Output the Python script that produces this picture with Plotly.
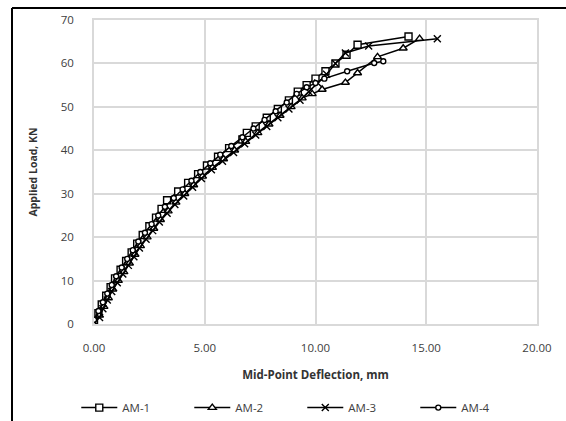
import plotly.graph_objects as go

# ---- data ----
am1_x = [0.0, 0.2, 0.35, 0.55, 0.75, 0.95, 1.2, 1.45, 1.7, 1.95, 2.2, 2.5, 2.8, 3.05, 3.3, 3.8, 4.25, 4.7, 5.1, 5.6, 6.1, 6.7, 6.9, 7.3, 7.8, 8.3, 8.8, 9.2, 9.6, 10.0, 10.45, 10.9, 11.4, 11.9, 14.2]
am1_y = [0.5, 2.5, 4.5, 6.5, 8.5, 10.5, 12.5, 14.5, 16.5, 18.5, 20.5, 22.5, 24.5, 26.5, 28.5, 30.5, 32.5, 34.5, 36.5, 38.5, 40.5, 42.5, 44.0, 45.5, 47.5, 49.5, 51.5, 53.5, 55.0, 56.5, 58.2, 60.0, 62.0, 64.3, 66.2]

am2_x = [0.0, 0.25, 0.45, 0.65, 0.85, 1.1, 1.35, 1.6, 1.85, 2.1, 2.4, 2.7, 3.0, 3.35, 3.7, 4.1, 4.5, 4.9, 5.35, 5.85, 6.35, 6.85, 7.4, 7.9, 8.4, 8.9, 9.4, 9.85, 10.3, 11.35, 11.9, 12.8, 13.96, 14.7]
am2_y = [0.0, 2.0, 4.0, 6.0, 8.0, 10.0, 12.0, 14.0, 16.0, 18.0, 20.0, 22.0, 24.0, 26.0, 28.0, 30.0, 32.0, 34.0, 36.0, 38.0, 40.0, 42.0, 44.0, 46.0, 48.0, 50.0, 52.0, 53.0, 54.0, 55.6, 57.8, 61.5, 63.5, 65.7]

am3_x = [0.0, 0.25, 0.4, 0.6, 0.8, 1.05, 1.3, 1.55, 1.8, 2.05, 2.35, 2.65, 2.95, 3.3, 3.65, 4.05, 4.45, 4.85, 5.3, 5.8, 6.3, 6.8, 7.3, 7.8, 8.3, 8.8, 9.3, 9.7, 10.1, 10.5, 10.9, 11.35, 12.4, 15.5]
am3_y = [0.5, 1.5, 3.5, 5.5, 7.5, 9.5, 11.5, 13.5, 15.5, 17.5, 19.5, 21.5, 23.5, 25.5, 27.5, 29.5, 31.5, 33.5, 35.5, 37.5, 39.5, 41.5, 43.5, 45.5, 47.5, 49.5, 51.5, 53.5, 55.5, 57.5, 60.0, 62.4, 64.0, 65.7]

am4_x = [0.0, 0.2, 0.4, 0.6, 0.8, 1.0, 1.25, 1.5, 1.75, 2.0, 2.3, 2.6, 2.9, 3.2, 3.6, 4.0, 4.4, 4.8, 5.25, 5.7, 6.2, 6.7, 7.2, 7.7, 8.2, 8.7, 9.15, 9.6, 10.0, 10.4, 11.43, 12.65, 13.06]
am4_y = [1.0, 3.0, 5.0, 7.0, 9.0, 11.0, 13.0, 15.0, 17.0, 19.0, 21.0, 23.0, 25.0, 27.0, 29.0, 31.0, 33.0, 35.0, 37.0, 39.0, 41.0, 43.0, 45.0, 47.0, 49.0, 51.0, 53.0, 54.5, 55.5, 56.5, 58.2, 60.1, 60.5]

series = [
    ("AM-1", am1_x, am1_y, "square", 7),
    ("AM-2", am2_x, am2_y, "triangle-up", 7),
    ("AM-3", am3_x, am3_y, "x-thin", 7),
    ("AM-4", am4_x, am4_y, "circle", 5),
]

x_ticks = [0, 5, 10, 15, 20]
x_tick_text = ["0.00", "5.00", "10.00", "15.00", "20.00"]
y_ticks = [0, 10, 20, 30, 40, 50, 60, 70]

fig = go.Figure()
for name, xs, ys, sym, sz in series:
    fig.add_trace(go.Scatter(
        x=xs, y=ys, name=name, mode="lines+markers",
        line=dict(color="black", width=1.5),
        marker=dict(symbol=sym, size=sz, color="white",
                    line=dict(color="black", width=1.4)),
    ))

grid = "#d9d9d9"
fam = "Open Sans, Liberation Sans, sans-serif"
tickfont = dict(family=fam, size=11.5, color="#404040")
fig.update_layout(
    width=566, height=421,
    margin=dict(l=94, r=29, t=20, b=97, autoexpand=False),
    paper_bgcolor="white", plot_bgcolor="white",
    showlegend=True,
    legend=dict(orientation="h", x=-0.04, xanchor="left", y=-0.275, yanchor="middle",
                font=dict(family=fam, size=11.5, color="#404040"),
                entrywidth=62, entrywidthmode="pixels", itemwidth=36),
    xaxis=dict(range=[0, 20], tickvals=x_ticks, ticktext=x_tick_text, automargin=False,
               showgrid=True, gridcolor=grid, gridwidth=1.5,
               showline=True, linecolor=grid, linewidth=1.5, mirror=True,
               zeroline=False, ticks="", ticklabelstandoff=12, tickfont=tickfont,
               title=dict(text="<b>Mid-Point Deflection, mm</b>", standoff=17,
                          font=dict(family=fam, size=11.5, color="#333333"))),
    yaxis=dict(range=[0, 70], tickvals=y_ticks, automargin=False,
               showgrid=True, gridcolor=grid, gridwidth=1.5,
               showline=True, linecolor=grid, linewidth=1.5, mirror=True,
               zeroline=False, ticks="", ticklabelstandoff=16, tickfont=tickfont,
               title=dict(text="<b>Applied Load, KN</b>", standoff=21,
                          font=dict(family=fam, size=10.5, color="#333333"))),
)

# outer chart frame (black), runs off the right and bottom edges
fx = (12 - 94) / 443
fy = (324 - 8) / 304
fig.add_shape(type="line", xref="paper", yref="paper",
              x0=fx, x1=fx, y0=-0.5, y1=fy, line=dict(color="black", width=2))
fig.add_shape(type="line", xref="paper", yref="paper",
              x0=fx, x1=1.2, y0=fy, y1=fy, line=dict(color="black", width=2))

fig.write_html("out.html")
